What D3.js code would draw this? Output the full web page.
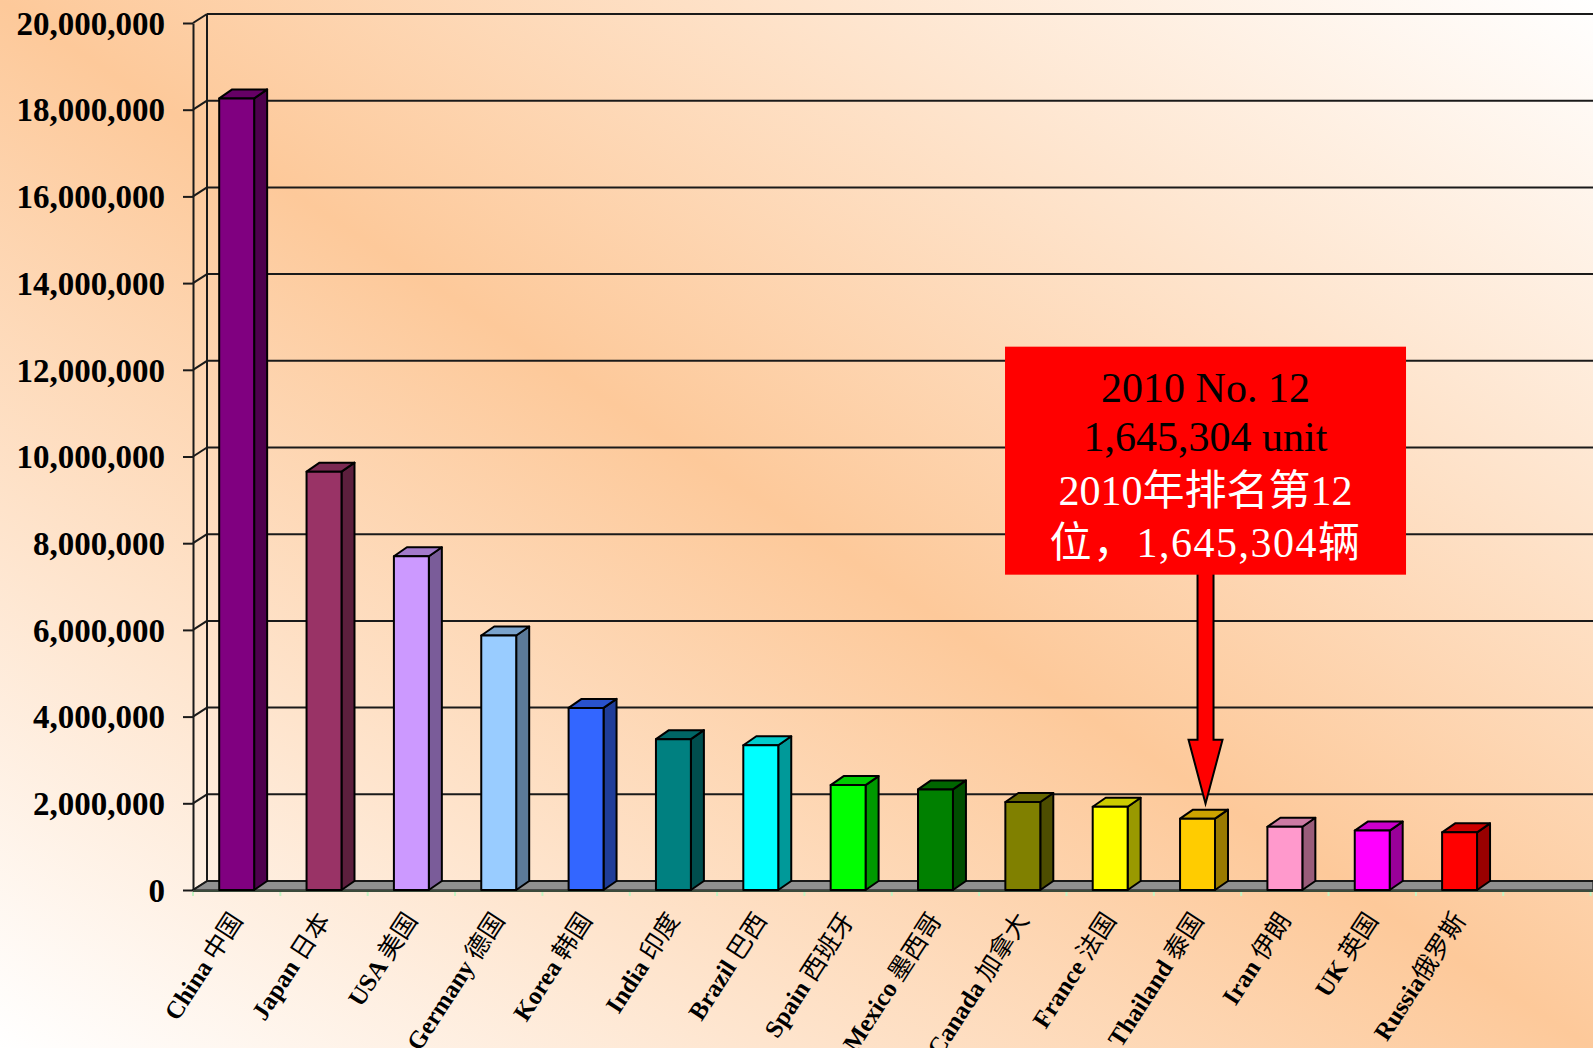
<!DOCTYPE html>
<html>
<head>
<meta charset="utf-8">
<script src="https://cdn.jsdelivr.net/npm/d3@7"></script>
<style>
  body { margin: 0; background: #fff; }
  svg { display: block; }
</style>
</head>
<body>
<div id="chart-area"></div>
<script>

/* data */
const countries = ["China", "Japan", "USA", "Germany", "Korea", "India", "Brazil", "Spain",
    "Mexico", "Canada", "France", "Thailand", "Iran", "UK", "Russia"];
const countriesCn = ["中国", "日本", "美国", "德国", "韩国", "印度", "巴西", "西班牙",
    "墨西哥", "加拿大", "法国", "泰国", "伊朗", "英国", "俄罗斯"];
const production = [18260000, 9650000, 7700000, 5870000, 4200000, 3480000, 3340000, 2420000,
    2320000, 2030000, 1920000, 1645304, 1460000, 1370000, 1330000];
const barColors = ["#800080", "#993366", "#CC99FF", "#99CCFF", "#3366FF", "#008080", "#00FFFF", "#00FF00",
    "#008000", "#808000", "#FFFF00", "#FFCC00", "#FF99CC", "#FF00FF", "#FF0000"];
const yTicks = [0, 2000000, 4000000, 6000000, 8000000, 10000000, 12000000, 14000000, 16000000, 18000000, 20000000];

const highlight = "Thailand";
const noteBlack = ["2010 No. 12", "1,645,304 unit"];
const noteWhite = ["2010年排名第12", "位，1,645,304辆"];

/* graphical constants */
const W = 1593, H = 1048;
const axisX = 193, axisEnd = 1590.6;
const depth = { x: 14, y: -9 };
const barDepth = { x: 13, y: -9 };
const SERIF = "'Liberation Serif', 'Times New Roman', 'Noto Sans CJK SC', serif";
const CJK = "'Noto Sans CJK SC', sans-serif";

const svg = d3.select("#chart-area")
    .append("svg")
    .attr("width", W)
    .attr("height", H);

// background gradient, white corners top right / bottom left
const grad = svg.append("defs").append("linearGradient")
    .attr("id", "bg")
    .attr("x1", 0).attr("y1", 1)
    .attr("x2", 1).attr("y2", 0);
grad.append("stop").attr("offset", 0).attr("stop-color", "#FFFFFF");
grad.append("stop").attr("offset", 0.5).attr("stop-color", "#FDC99A");
grad.append("stop").attr("offset", 1).attr("stop-color", "#FFFFFF");

svg.append("rect")
    .attr("width", W).attr("height", H)
    .attr("fill", "url(#bg)");

// scales
const y = d3.scaleLinear()
    .domain([0, 20000000])
    .range([890, 23]);

const x = d3.scaleBand()
    .domain(countries.concat([""]))   // one empty slot at the right
    .range([axisX, axisEnd])
    .paddingInner(0.6)
    .paddingOuter(0.3);

const shade = (c, k) => {
    const r = d3.rgb(c);
    return d3.rgb(r.r * k, r.g * k, r.b * k).formatHex();
};

// floor
const y0 = y(0);
svg.append("path")
    .attr("d", "M" + axisX + "," + y0 + "L" + (axisX + depth.x) + "," + (y0 + depth.y) +
        "L" + W + "," + (y0 + depth.y) + "L" + W + "," + y0 + "Z")
    .attr("fill", "#909090")
    .attr("stroke", "#333")
    .attr("stroke-width", 1.5);

// back wall gridlines
svg.append("g")
    .selectAll("line")
    .data(yTicks)
    .enter()
    .append("line")
    .attr("x1", axisX + depth.x)
    .attr("x2", W)
    .attr("y1", d => y(d) + depth.y)
    .attr("y2", d => y(d) + depth.y)
    .attr("stroke", "#1a1a1a")
    .attr("stroke-width", 2);

// side wall: back edge + connectors
svg.append("line")
    .attr("x1", axisX + depth.x).attr("x2", axisX + depth.x)
    .attr("y1", y(20000000) + depth.y).attr("y2", y0 + depth.y)
    .attr("stroke", "#1a1a1a").attr("stroke-width", 2);

svg.append("g")
    .selectAll("line")
    .data(yTicks)
    .enter()
    .append("line")
    .attr("x1", axisX)
    .attr("x2", axisX + depth.x)
    .attr("y1", d => y(d))
    .attr("y2", d => y(d) + depth.y)
    .attr("stroke", "#1a1a1a")
    .attr("stroke-width", 2);

// Y axis
const yAxisGroup = svg.append("g")
    .attr("transform", "translate(" + axisX + ",0)")
    .call(d3.axisLeft(y)
        .tickValues(yTicks)
        .tickFormat(d3.format(","))
        .tickSize(10)
        .tickSizeOuter(0)
        .tickPadding(18));

yAxisGroup.selectAll("path, line")
    .attr("stroke", "#1a1a1a")
    .attr("stroke-width", 2);
yAxisGroup.selectAll("text")
    .attr("dy", "0.34em")
    .style("font-family", SERIF)
    .style("font-weight", "bold")
    .style("font-size", "33px")
    .attr("fill", "#000");

// front edge of the floor + category ticks
svg.append("line")
    .attr("x1", axisX).attr("x2", W)
    .attr("y1", y0 + 1).attr("y2", y0 + 1)
    .attr("stroke", "#3b4a3b").attr("stroke-width", 2);

svg.append("g")
    .selectAll("line")
    .data(x.domain().concat(["end"]))
    .enter()
    .append("line")
    .attr("x1", (d, i) => axisX + i * x.step())
    .attr("x2", (d, i) => axisX + i * x.step())
    .attr("y1", y0 + 2)
    .attr("y2", y0 + 6)
    .attr("stroke", "#c4f5c4")
    .attr("stroke-width", 2);

// 3D bars
const bars = svg.append("g")
    .selectAll("g")
    .data(countries)
    .enter()
    .append("g");

const bw = x.bandwidth();

bars.append("path")   // side
    .attr("d", (d, i) => {
        const bx = x(d) + bw, by = y(production[i]);
        return "M" + bx + "," + y0 + "L" + bx + "," + by +
            "L" + (bx + barDepth.x) + "," + (by + barDepth.y) +
            "L" + (bx + barDepth.x) + "," + (y0 + barDepth.y) + "Z";
    })
    .attr("fill", (d, i) => shade(barColors[i], 0.6));

bars.append("path")   // top
    .attr("d", (d, i) => {
        const bx = x(d), by = y(production[i]);
        return "M" + bx + "," + by + "L" + (bx + barDepth.x) + "," + (by + barDepth.y) +
            "L" + (bx + bw + barDepth.x) + "," + (by + barDepth.y) +
            "L" + (bx + bw) + "," + by + "Z";
    })
    .attr("fill", (d, i) => shade(barColors[i], 0.8));

bars.append("rect")   // front
    .attr("x", d => x(d))
    .attr("y", (d, i) => y(production[i]))
    .attr("width", bw)
    .attr("height", (d, i) => y0 - y(production[i]))
    .attr("fill", (d, i) => barColors[i]);

bars.selectAll("path, rect")
    .attr("stroke", "#000")
    .attr("stroke-width", 2)
    .attr("stroke-linejoin", "round");

// X labels, rotated
const labels = svg.append("g")
    .selectAll("text")
    .data(countries)
    .enter()
    .append("text")
    .attr("transform", d => "translate(" + (x(d) + bw / 2 + 7) + ",920) rotate(-57)")
    .attr("text-anchor", "end")
    .style("font-size", "25px")
    .attr("fill", "#000");

labels.append("tspan")
    .style("font-family", SERIF)
    .style("font-weight", "bold")
    .text(d => d === "Russia" ? d : d + " ");

labels.append("tspan")
    .style("font-family", CJK)
    .text((d, i) => countriesCn[i]);

// annotation: arrow pointing at Thailand
const hi = countries.indexOf(highlight);
const tipX = x(highlight) + bw / 2 + 8;
const tipY = y(production[hi]) - 15;
const boxW = 401, boxH = 228;
const boxTop = tipY - 229 - boxH;

svg.append("path")
    .attr("d", "M" + (tipX - 8) + "," + (boxTop + boxH - 2) +
        "L" + (tipX - 8) + "," + (tipY - 64) +
        "L" + (tipX - 17) + "," + (tipY - 64) +
        "L" + tipX + "," + tipY +
        "L" + (tipX + 17) + "," + (tipY - 64) +
        "L" + (tipX + 8) + "," + (tipY - 64) +
        "L" + (tipX + 8) + "," + (boxTop + boxH - 2))
    .attr("fill", "#FF0000")
    .attr("stroke", "#000")
    .attr("stroke-width", 2)
    .attr("stroke-linejoin", "miter");

svg.append("rect")
    .attr("x", tipX - boxW / 2)
    .attr("y", boxTop)
    .attr("width", boxW)
    .attr("height", boxH)
    .attr("fill", "#FF0000");

svg.append("g")
    .selectAll("text")
    .data(noteBlack)
    .enter()
    .append("text")
    .attr("x", tipX)
    .attr("y", (d, i) => boxTop + 55 + i * 49)
    .attr("text-anchor", "middle")
    .style("font-family", SERIF)
    .style("font-size", "42px")
    .attr("fill", "#000")
    .text(d => d);

svg.append("g")
    .selectAll("text")
    .data(noteWhite)
    .enter()
    .append("text")
    .attr("x", tipX)
    .attr("y", (d, i) => boxTop + 158 + i * 52)
    .attr("text-anchor", "middle")
    .style("font-family", SERIF)
    .style("font-size", "42px")
    .style("letter-spacing", (d, i) => i === 1 ? "1.5px" : "0px")
    .attr("fill", "#FFFFFF")
    .text(d => d);

</script>
</body>
</html>
